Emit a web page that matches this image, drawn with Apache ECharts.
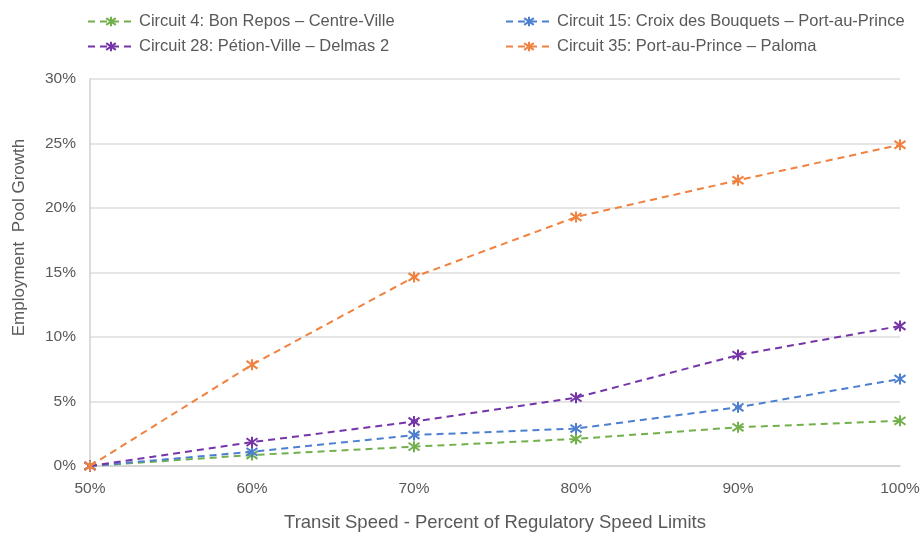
<!DOCTYPE html>
<html>
<head>
<meta charset="utf-8">
<script src="https://cdn.jsdelivr.net/npm/echarts@6/dist/echarts.min.js"></script>
<style>
  html, body { margin: 0; padding: 0; background: #fff; }
  #chart { width: 922px; height: 533px; }
</style>
</head>
<body>
<div id="chart"></div>
<script>
// Transit speed as percent of regulatory speed limits
const speeds = [50, 60, 70, 80, 90, 100];

// Employment pool growth (%) per circuit
const circuit4 = [0, 0.85, 1.5, 2.1, 3.0, 3.5];
const circuit15 = [0, 1.1, 2.4, 2.9, 4.55, 6.75];
const circuit28 = [0, 1.85, 3.45, 5.3, 8.6, 10.85];
const circuit35 = [0, 7.85, 14.65, 19.3, 22.15, 24.9];

const seriesNames = [
  'Circuit 4: Bon Repos \u2013 Centre-Ville',
  'Circuit 15: Croix des Bouquets \u2013 Port-au-Prince',
  'Circuit 28: P\u00e9tion-Ville \u2013 Delmas 2',
  'Circuit 35: Port-au-Prince \u2013 Paloma'
];
const seriesValues = [circuit4, circuit15, circuit28, circuit35];
const seriesColors = ['#72B04C', '#4D7FD0', '#7535A8', '#F0813F'];

// Asterisk marker: vertical stroke plus two diagonals
const starPath = 'path://M5,0 L5,10 M0.7,1.5 L9.3,8.5 M0.7,8.5 L9.3,1.5';

const textColor = '#595959';
const fontFamily = 'Liberation Sans, Arial, sans-serif';

const chart = echarts.init(document.getElementById('chart'));

const series = seriesNames.map((name, i) => ({
  name: name,
  type: 'line',
  data: speeds.map((s, j) => [s, seriesValues[i][j]]),
  symbol: starPath,
  symbolSize: 11,
  showSymbol: true,
  lineStyle: { color: seriesColors[i], width: 2, type: [7, 5] },
  itemStyle: { color: 'rgba(0,0,0,0)', borderColor: seriesColors[i], borderWidth: 2 },
  emphasis: { disabled: true },
  z: 2 + i
}));

const legendPos = [
  { left: 82, top: 8 },
  { left: 500, top: 8 },
  { left: 82, top: 33 },
  { left: 500, top: 33 }
];

const option = {
  animation: false,
  backgroundColor: '#ffffff',
  textStyle: { fontFamily: fontFamily },
  legend: seriesNames.map((name, i) => ({
    data: [name],
    left: legendPos[i].left,
    top: legendPos[i].top,
    itemWidth: 46,
    itemHeight: 12,
    itemGap: 10,
    textStyle: { color: textColor, fontSize: 16.5, fontFamily: fontFamily },
    selectedMode: false
  })),
  grid: { left: 90, right: 22, top: 79, bottom: 67, containLabel: false, outerBoundsMode: 'none' },
  xAxis: {
    type: 'value',
    min: 50,
    max: 100,
    interval: 10,
    name: 'Transit Speed - Percent of Regulatory Speed Limits',
    nameLocation: 'middle',
    nameGap: 47,
    nameTextStyle: { color: textColor, fontSize: 18.5, fontFamily: fontFamily },
    axisLine: { show: true, lineStyle: { color: '#d0d0d0', width: 1.5 } },
    axisTick: { show: false },
    splitLine: { show: false },
    axisLabel: { formatter: '{value}%', color: textColor, fontSize: 15.5, margin: 15, fontFamily: fontFamily }
  },
  yAxis: {
    type: 'value',
    min: 0,
    max: 30,
    interval: 5,
    name: 'Employment  Pool Growth',
    nameLocation: 'middle',
    nameRotate: 90,
    nameGap: 62,
    nameTextStyle: { color: textColor, fontSize: 17, fontFamily: fontFamily, padding: [0, 0, 0, 70] },
    axisLine: { show: true, lineStyle: { color: '#d0d0d0', width: 1.5 } },
    axisTick: { show: false },
    splitLine: { show: true, lineStyle: { color: '#dcdcdc', width: 1.5 } },
    axisLabel: { formatter: '{value}%', color: textColor, fontSize: 15.5, margin: 14, fontFamily: fontFamily }
  },
  series: series
};

chart.setOption(option);
</script>
</body>
</html>
